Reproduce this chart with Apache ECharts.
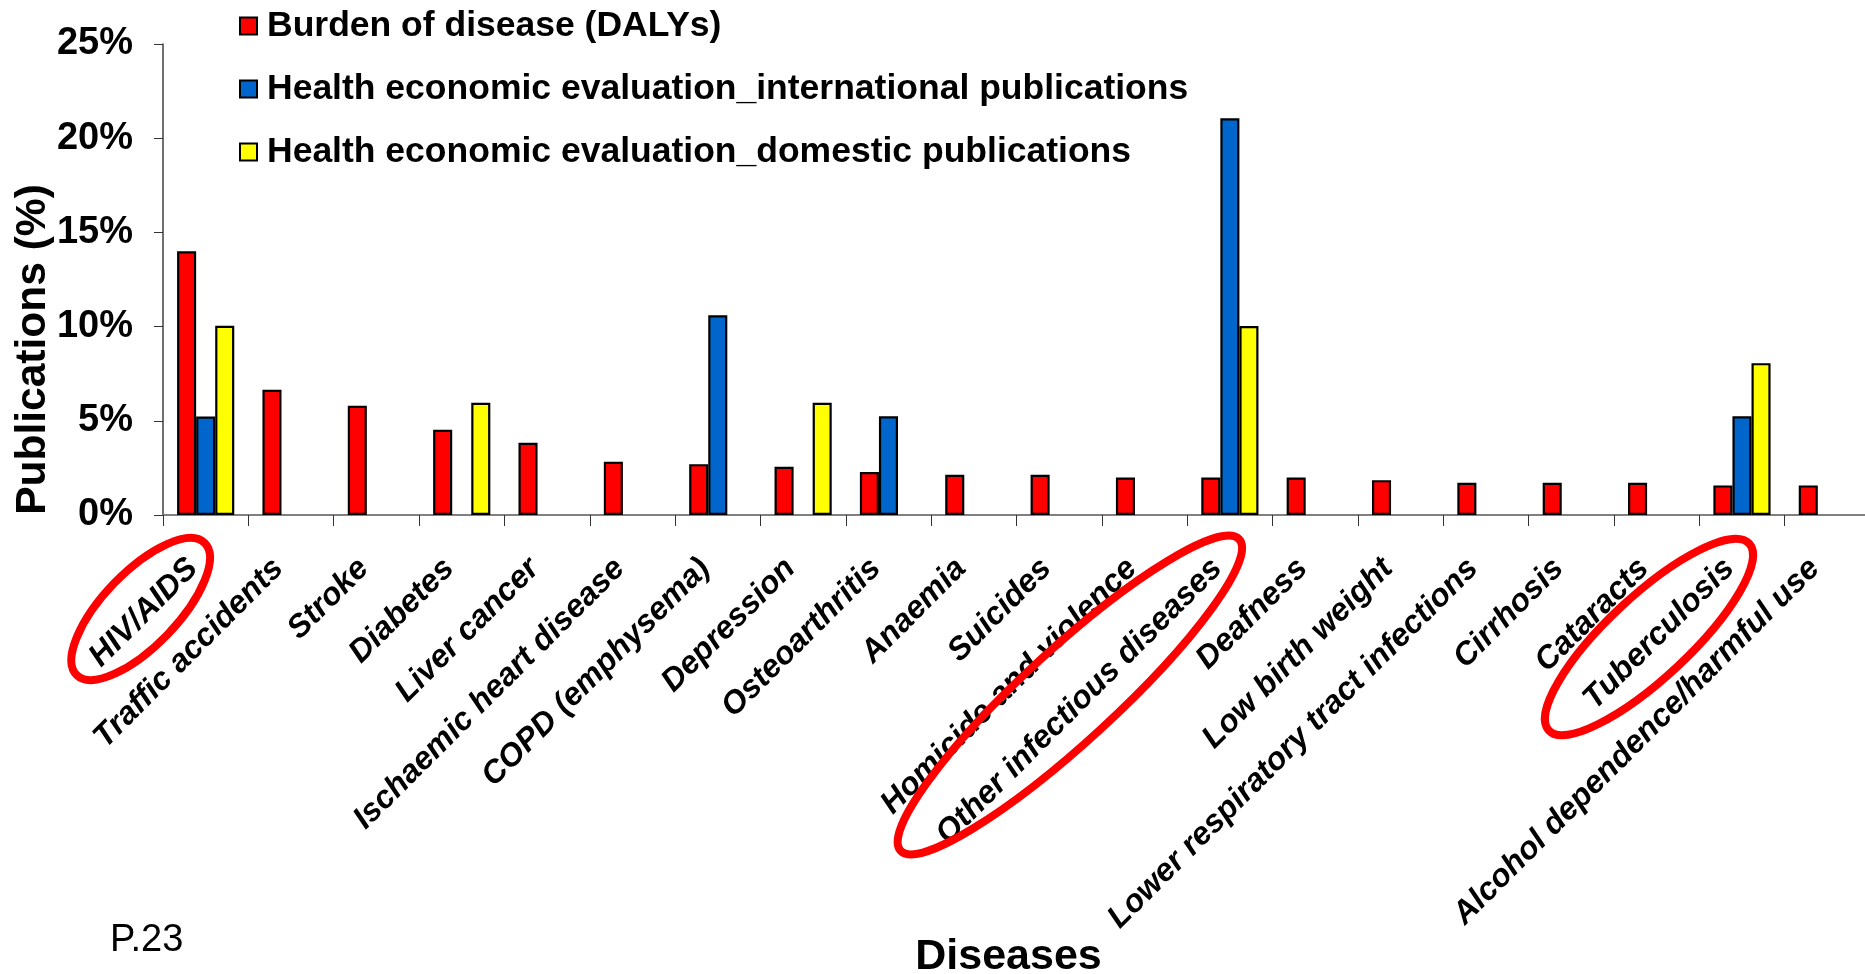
<!DOCTYPE html>
<html><head><meta charset="utf-8">
<script src="https://cdn.jsdelivr.net/npm/echarts@6/dist/echarts.min.js"></script>
<style>html,body{margin:0;padding:0;background:#fff}#c{width:1865px;height:974px}</style>
</head><body><div id="c"></div>
<script>
// ---- data ----
const categories = ['HIV/AIDS','Traffic accidents','Stroke','Diabetes','Liver cancer','Ischaemic heart disease','COPD (emphysema)','Depression','Osteoarthritis','Anaemia','Suicides','Homicide and violence','Other infectious diseases','Deafness','Low birth weight','Lower respiratory tract infections','Cirrhosis','Cataracts','Tuberculosis','Alcohol dependence/harmful use'];
const seriesNames = ['Burden of disease (DALYs)','Health economic evaluation_international publications','Health economic evaluation_domestic publications'];
const burden   = [14.0, 6.65, 5.8, 4.52, 3.83, 2.82, 2.7, 2.56, 2.28, 2.13, 2.13, 1.99, 1.99, 1.99, 1.85, 1.71, 1.71, 1.71, 1.57, 1.57];
const intlPubs = [5.23, null, null, null, null, null, 10.6, null, 5.24, null, null, null, 21.06, null, null, null, null, null, 5.24, null];
const domPubs  = [10.04, null, null, 5.96, null, null, null, 5.96, null, null, null, null, 10.03, null, null, null, null, null, 8.06, null];
const yTicks = [0, 5, 10, 15, 20, 25];
const highlighted = ['HIV/AIDS','Other infectious diseases','Tuberculosis'];
const yTitle = 'Publications (%)';
const xTitle = 'Diseases';
const pageNote = 'P.23';

// ---- styles ----
const SANS = '"Liberation Sans",Arial,sans-serif';
const colors = ['#ff0000', '#0066cc', '#ffff00'];
const ellipseGeom = {
  'HIV/AIDS': {dx: -65, dy: 94, rx: 92, ry: 37, ang: 46},
  'Other infectious diseases': {dx: -160, dy: 180, rx: 230, ry: 46, ang: 42.6},
  'Tuberculosis': {dx: -93, dy: 122, rx: 137, ry: 41, ang: 43}
};

const chart = echarts.init(document.getElementById('c'));
const mk = (name, data, color) => ({
  name, type: 'bar', data,
  barGap: '0%', barCategoryGap: '33%',
  itemStyle: {color, borderColor: '#000', borderWidth: 2.2}
});
chart.setOption({
  animation: false,
  backgroundColor: '#fff',
  grid: {left: 163, right: -5, top: 44, bottom: 459, containLabel: false, outerBoundsMode: 'none'},
  legend: {
    orient: 'vertical', left: 234, top: 1, itemGap: 23,
    itemWidth: 17, itemHeight: 17, icon: 'rect',
    data: seriesNames,
    itemStyle: {borderColor: '#000', borderWidth: 2},
    textStyle: {fontFamily: SANS, fontWeight: 'bold', fontSize: 35.5, color: '#000', lineHeight: 40, padding: [0,0,0,5]}
  },
  xAxis: {
    type: 'category', data: categories,
    name: xTitle, nameLocation: 'middle', nameGap: 421, nameMoveOverlap: false,
    nameTextStyle: {fontFamily: SANS, fontWeight: 'bold', fontSize: 43, color: '#000', padding: [0, 16, 0, 0]},
    axisLine: {lineStyle: {color: '#808080', width: 2}},
    axisTick: {show: true, interval: 0, length: 11, lineStyle: {color: '#333', width: 1}},
    axisLabel: {interval: 0, rotate: 45, margin: 36, padding: [0, 18, 0, 0], fontFamily: SANS, fontWeight: 'bold', fontStyle: 'italic', fontSize: 32, color: '#000'}
  },
  yAxis: {
    type: 'value', min: yTicks[0], max: yTicks[yTicks.length-1], interval: yTicks[1]-yTicks[0],
    name: yTitle, nameLocation: 'middle', nameGap: 108, nameRotate: 90, nameMoveOverlap: false,
    nameTextStyle: {fontFamily: SANS, fontWeight: 'bold', fontSize: 42.5, color: '#000', padding: [0, 140, 0, 0]},
    axisLine: {show: true, lineStyle: {color: '#404040', width: 1.5}},
    axisTick: {show: true, length: 9, lineStyle: {color: '#333'}},
    splitLine: {show: false},
    axisLabel: {formatter: '{value}%', margin: 30, fontFamily: SANS, fontWeight: 'bold', fontSize: 38, color: '#000'}
  },
  series: [mk(seriesNames[0], burden, colors[0]), mk(seriesNames[1], intlPubs, colors[1]), mk(seriesNames[2], domPubs, colors[2])]
});

const y0 = chart.convertToPixel({yAxisIndex: 0}, 0);
const graphics = highlighted.map(name => {
  const g = ellipseGeom[name];
  const cx = chart.convertToPixel({xAxisIndex: 0}, name);
  return {
    type: 'ellipse', x: cx + g.dx, y: y0 + g.dy, rotation: g.ang * Math.PI / 180,
    shape: {cx: 0, cy: 0, rx: g.rx, ry: g.ry},
    style: {fill: 'none', stroke: '#ff0000', lineWidth: 8}, z: 100
  };
});
graphics.push({type: 'text', left: 110, top: 922, style: {text: pageNote, font: '38px ' + SANS, fill: '#000'}});
chart.setOption({graphic: graphics});
</script>
</body></html>
